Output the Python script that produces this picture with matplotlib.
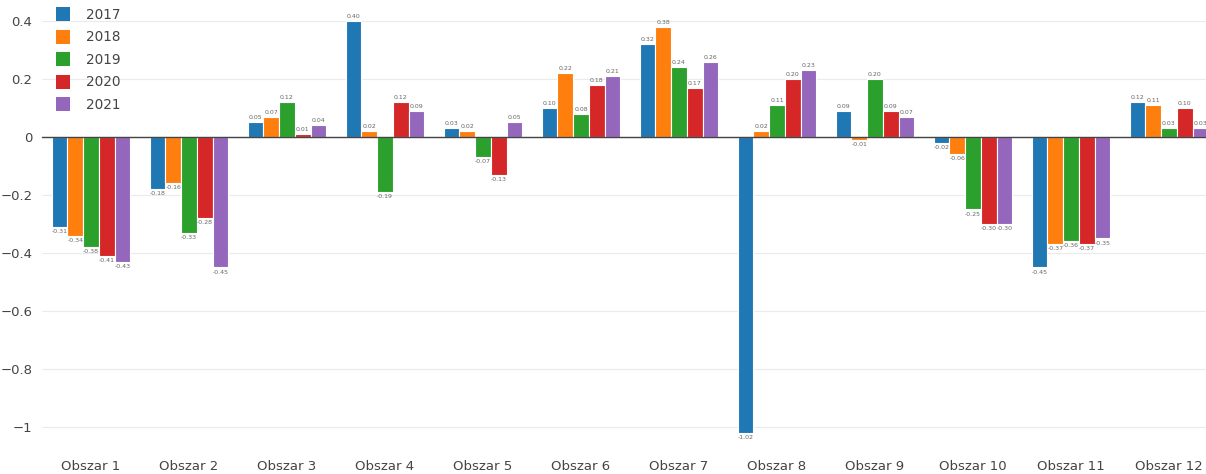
import matplotlib.pyplot as plt
import numpy as np
from matplotlib.lines import Line2D
from matplotlib.ticker import FuncFormatter

# Data
areas = [f"Obszar {i}" for i in range(1, 13)]
years = ['2017', '2018', '2019', '2020', '2021']
v2017 = [-0.31, -0.18, 0.05, 0.40, 0.03, 0.10, 0.32, -1.02, 0.09, -0.02, -0.45, 0.12]
v2018 = [-0.34, -0.16, 0.07, 0.02, 0.02, 0.22, 0.38, 0.02, -0.01, -0.06, -0.37, 0.11]
v2019 = [-0.38, -0.33, 0.12, -0.19, -0.07, 0.08, 0.24, 0.11, 0.20, -0.25, -0.36, 0.03]
v2020 = [-0.41, -0.28, 0.01, 0.12, -0.13, 0.18, 0.17, 0.20, 0.09, -0.30, -0.37, 0.10]
v2021 = [-0.43, -0.45, 0.04, 0.09, 0.05, 0.21, 0.26, 0.23, 0.07, -0.30, -0.35, 0.03]
series = [v2017, v2018, v2019, v2020, v2021]
colors = ['#1f77b4', '#ff7f0e', '#2ca02c', '#d62728', '#9467bd']

W, H = 1206, 474
fig = plt.figure(figsize=(W / 100, H / 100), dpi=100)
# plot area runs past the right edge, like the cropped original
ax = fig.add_axes([42 / W, 27 / H, 1176 / W, 447 / H])

x = np.arange(len(areas))
bw = 0.16
for i, (vals, col) in enumerate(zip(series, colors)):
    offs = (i - 2) * bw
    bars = ax.bar(x + offs, vals, bw, color=col, edgecolor='white', linewidth=0.8, zorder=3)
    ax.bar_label(bars, fmt='%.2f', fontsize=4.5, color='#666666', padding=1.5)

ax.set_xlim(-0.5, len(areas) - 0.5)
ax.set_ylim(-1.069, 0.4724)
ax.set_yticks([0.4, 0.2, 0, -0.2, -0.4, -0.6, -0.8, -1.0])
ax.yaxis.set_major_formatter(FuncFormatter(lambda v, p: f"{v:g}".replace('-', '\u2212')))
ax.set_xticks(x)
ax.set_xticklabels(areas)

ax.grid(axis='y', color='#ebebeb', linewidth=0.8, zorder=0)
ax.axhline(0, color='#444444', linewidth=1.0, zorder=4)
for s in ax.spines.values():
    s.set_visible(False)
ax.tick_params(axis='both', length=0, labelsize=9.5, labelcolor='#444444')
ax.tick_params(axis='x', pad=9)
ax.tick_params(axis='y', pad=7)

handles = [Line2D([], [], marker='s', linestyle='', markersize=10, markeredgewidth=0, color=c)
           for c in colors]
fig.legend(handles, years, loc='upper left', bbox_to_anchor=(53 / W, 1 - 8 / H),
           frameon=False, fontsize=9.8, labelcolor='#444444', handlelength=1.4,
           handletextpad=1.0, labelspacing=0.62, borderpad=0, borderaxespad=0)

fig.savefig('out.png', dpi=100)
